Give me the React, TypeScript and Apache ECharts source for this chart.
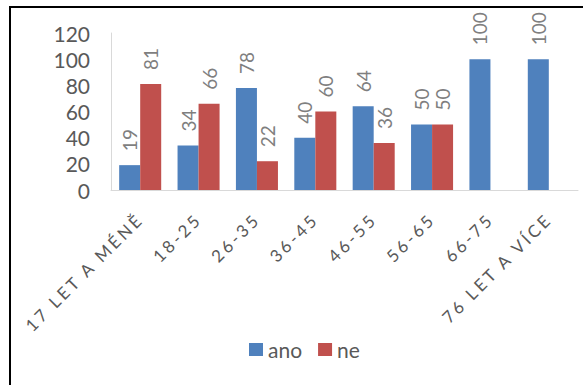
import React, { useEffect, useRef } from "react";
import * as echarts from "echarts";

const categories = ["17 LET A MÉNĚ", "18-25", "26-35", "36-45", "46-55", "56-65", "66-75", "76 LET A VÍCE"];
const anoValues = [19, 34, 78, 40, 64, 50, 100, 100];
const neValues: (number | null)[] = [81, 66, 22, 60, 36, 50, null, null];
const yTicks = { min: 0, max: 120, interval: 20 };

const FONT = "Lato, 'Open Sans', sans-serif";

export default function App() {
  const ref = useRef<HTMLDivElement>(null);
  useEffect(() => {
    if (!ref.current) return;
    const chart = echarts.init(ref.current, undefined, { renderer: "svg" });
    const dataLabel = {
      show: true,
      position: "top",
      rotate: 90,
      align: "left",
      verticalAlign: "middle",
      distance: 14,
      fontSize: 19,
      fontFamily: FONT,
      color: "#7f7f7f",
    };
    chart.setOption({
      animation: false,
      textStyle: { fontFamily: FONT },
      graphic: [
        {
          type: "rect",
          shape: { x: 10, y: 7, width: 700, height: 500 },
          style: { fill: "none", stroke: "#000", lineWidth: 2 },
          silent: true,
        },
      ],
      grid: { left: 111, right: 5, top: 33, bottom: 195 },
      legend: {
        left: 249,
        top: 339,
        padding: 0,
        itemWidth: 14,
        itemHeight: 13,
        itemGap: 16,
        icon: "rect",
        textStyle: { fontSize: 21, color: "#595959", fontFamily: FONT },
        data: ["ano", "ne"],
      },
      xAxis: {
        type: "category",
        data: categories,
        axisLine: { show: true, lineStyle: { color: "#d9d9d9", width: 1 } },
        axisTick: { show: false },
        axisLabel: {
          interval: 0,
          rotate: 45,
          margin: 26,
          fontSize: 17,
          color: "#595959",
          fontFamily: FONT,
        },
      },
      yAxis: {
        type: "value",
        min: yTicks.min,
        max: yTicks.max,
        interval: yTicks.interval,
        splitLine: { show: false },
        axisLine: { show: true, lineStyle: { color: "#d9d9d9", width: 1 } },
        axisTick: { show: false },
        axisLabel: { fontSize: 21, color: "#595959", margin: 21, fontFamily: FONT },
      },
      series: [
        {
          name: "ano",
          type: "bar",
          data: anoValues,
          barGap: "0%",
          barCategoryGap: "28%",
          itemStyle: { color: "#4f81bd" },
          label: dataLabel,
        },
        {
          name: "ne",
          type: "bar",
          data: neValues,
          barGap: "0%",
          barCategoryGap: "28%",
          itemStyle: { color: "#c0504d" },
          label: dataLabel,
        },
      ],
    });
    const applySpacing = () => {
      ref.current?.querySelectorAll("text").forEach((t) => {
        if (categories.includes((t.textContent || "").trim())) {
          t.setAttribute("letter-spacing", "3px");
        }
      });
    };
    applySpacing();
    const raf = requestAnimationFrame(applySpacing);
    return () => {
      cancelAnimationFrame(raf);
      chart.dispose();
    };
  }, []);
  return (
    <div style={{ position: "absolute", left: 0, top: 0, width: 583, height: 385, background: "#fff" }}>
      <div ref={ref} style={{ width: 583, height: 385 }} />
    </div>
  );
}
